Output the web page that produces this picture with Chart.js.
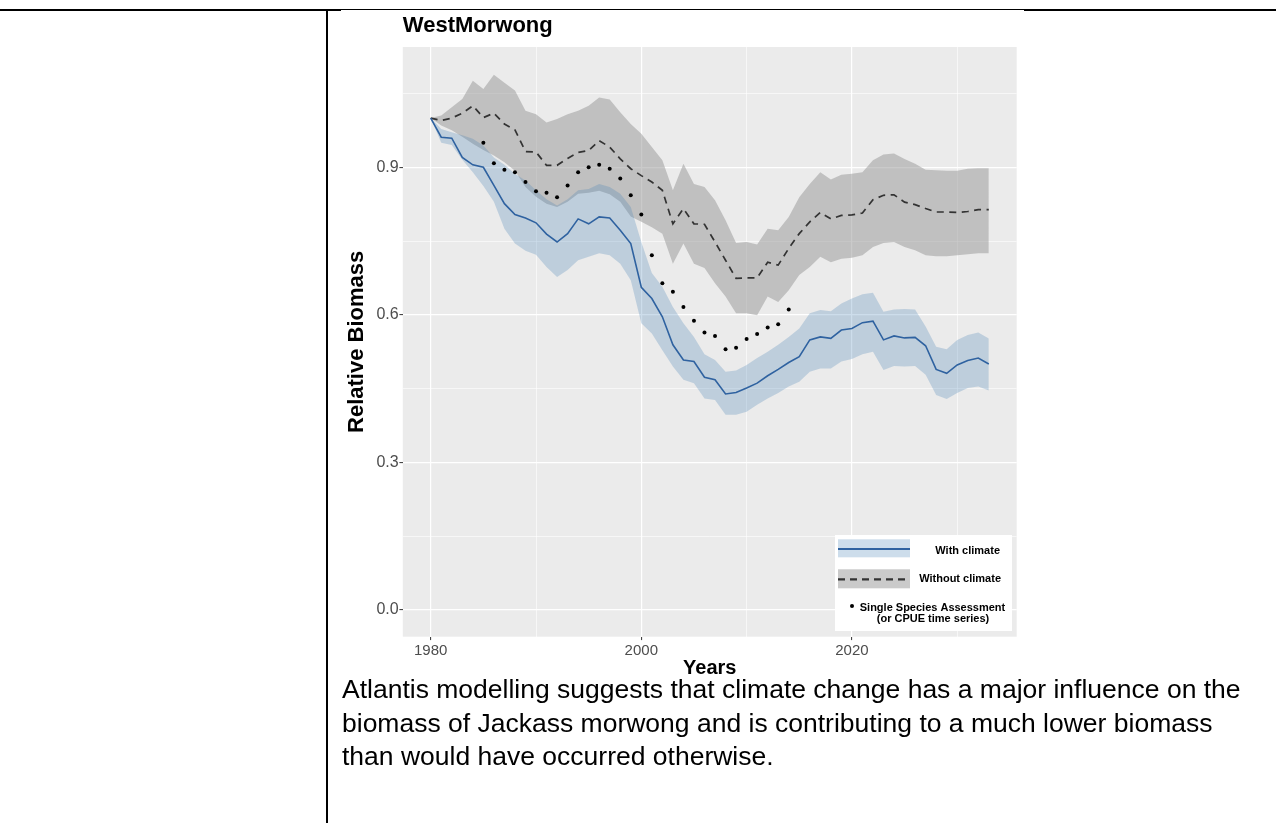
<!DOCTYPE html>
<html>
<head>
<meta charset="utf-8">
<script src="https://cdn.jsdelivr.net/npm/chart.js@4.4.1/dist/chart.umd.min.js"></script>
<style>
  html, body { margin:0; padding:0; background:#fff; width:1276px; height:823px; overflow:hidden; }
  .ln { position:absolute; background:#000; }
  #chartBox { position:absolute; left:330px; top:10px; width:700px; height:680px; }
  #caption { position:absolute; left:342px; top:673px; font-family:"Liberation Sans", Arial, sans-serif; font-size:26.5px; line-height:33.5px; color:#000; white-space:nowrap; }
</style>
</head>
<body>
  <div class="ln" style="left:0; top:9px; width:341px; height:2px;"></div>
  <div class="ln" style="left:341px; top:9px; width:683px; height:1px;"></div>
  <div class="ln" style="left:1024px; top:9px; width:252px; height:2px;"></div>
  <div class="ln" style="left:325.5px; top:9px; width:2.7px; height:814px;"></div>
  <div id="chartBox"><canvas id="c" width="700" height="680"></canvas></div>
  <div id="caption">Atlantis modelling suggests that climate change has a major influence on the<br>biomass of Jackass morwong and is contributing to a much lower biomass<br>than would have occurred otherwise.</div>
<script>
// ---------- data ----------
const years = [1980,1981,1982,1983,1984,1985,1986,1987,1988,1989,1990,1991,1992,1993,1994,1995,1996,1997,1998,1999,2000,2001,2002,2003,2004,2005,2006,2007,2008,2009,2010,2011,2012,2013,2014,2015,2016,2017,2018,2019,2020,2021,2022,2023,2024,2025,2026,2027,2028,2029,2030,2031,2032,2033];
const withClimate = [1.000,0.961,0.959,0.920,0.905,0.900,0.863,0.826,0.804,0.797,0.787,0.764,0.748,0.765,0.795,0.785,0.799,0.797,0.772,0.745,0.656,0.633,0.596,0.539,0.508,0.505,0.473,0.468,0.439,0.442,0.451,0.461,0.476,0.489,0.503,0.515,0.549,0.555,0.552,0.569,0.572,0.584,0.587,0.549,0.557,0.553,0.554,0.537,0.489,0.481,0.498,0.507,0.512,0.500];
const withUpper = [1.000,0.978,0.971,0.965,0.958,0.944,0.920,0.905,0.887,0.873,0.853,0.835,0.822,0.835,0.853,0.856,0.866,0.860,0.846,0.819,0.748,0.685,0.657,0.616,0.583,0.555,0.520,0.508,0.484,0.487,0.498,0.512,0.525,0.539,0.555,0.572,0.603,0.610,0.607,0.623,0.633,0.642,0.645,0.606,0.611,0.612,0.611,0.576,0.535,0.530,0.549,0.559,0.564,0.552];
const withLower = [1.000,0.950,0.945,0.915,0.890,0.862,0.830,0.775,0.745,0.730,0.722,0.697,0.677,0.691,0.711,0.718,0.725,0.721,0.704,0.670,0.583,0.562,0.528,0.495,0.468,0.461,0.430,0.427,0.397,0.397,0.403,0.417,0.430,0.441,0.454,0.464,0.484,0.491,0.491,0.505,0.510,0.520,0.525,0.488,0.496,0.495,0.496,0.478,0.437,0.429,0.441,0.451,0.454,0.446];
const withoutClimate = [1.000,0.995,1.000,1.010,1.025,1.001,1.010,0.988,0.976,0.932,0.931,0.904,0.904,0.918,0.930,0.934,0.954,0.941,0.917,0.897,0.883,0.870,0.853,0.785,0.816,0.785,0.784,0.748,0.711,0.674,0.675,0.675,0.707,0.701,0.735,0.765,0.789,0.808,0.795,0.802,0.803,0.807,0.834,0.843,0.844,0.829,0.824,0.816,0.809,0.809,0.808,0.810,0.814,0.814];
const withoutUpper = [1.000,1.005,1.022,1.039,1.076,1.059,1.088,1.072,1.056,1.015,1.008,0.991,0.998,1.008,1.015,1.025,1.042,1.038,1.012,0.988,0.968,0.941,0.914,0.853,0.907,0.866,0.860,0.833,0.792,0.746,0.748,0.743,0.775,0.772,0.799,0.839,0.866,0.890,0.875,0.885,0.887,0.890,0.914,0.926,0.928,0.917,0.907,0.895,0.894,0.893,0.893,0.897,0.898,0.898];
const withoutLower = [1.000,0.985,0.975,0.962,0.948,0.935,0.924,0.910,0.893,0.860,0.840,0.826,0.819,0.830,0.846,0.848,0.852,0.845,0.830,0.800,0.789,0.778,0.765,0.704,0.745,0.704,0.695,0.664,0.637,0.603,0.603,0.599,0.637,0.626,0.650,0.681,0.697,0.718,0.707,0.714,0.716,0.721,0.738,0.746,0.748,0.738,0.731,0.721,0.719,0.719,0.721,0.723,0.725,0.725];
const assessYears = [1985,1986,1987,1988,1989,1990,1991,1992,1993,1994,1995,1996,1997,1998,1999,2000,2001,2002,2003,2004,2005,2006,2007,2008,2009,2010,2011,2012,2013,2014];
const assessment = [0.950,0.908,0.895,0.890,0.870,0.851,0.848,0.839,0.863,0.890,0.900,0.905,0.897,0.877,0.843,0.804,0.721,0.664,0.647,0.616,0.588,0.564,0.557,0.530,0.533,0.551,0.561,0.574,0.581,0.611];
const xTicks = [1980,1990,2000,2010,2020,2030];
const xLabels = ['1980','','2000','','2020',''];
const yTicks = [0,0.15,0.3,0.45,0.6,0.75,0.9,1.05];
const yLabels = ['0.0','','0.3','','0.6','','0.9',''];
const legendLabels = ['With climate','Without climate','Single Species Assessment','(or CPUE time series)'];

const FONT = '"Liberation Sans", Arial, Helvetica, sans-serif';
const pts = (xs, ys) => xs.map((x, i) => ({x: x, y: ys[i]}));
const isMajor = (ticks, labels, c) => c.tick && labels[ticks.indexOf(c.tick.value)] !== '';

const panelBg = {
  id: 'panelBg',
  beforeDraw(chart) {
    const {ctx, chartArea: a} = chart;
    ctx.save();
    ctx.fillStyle = '#EBEBEB';
    ctx.fillRect(a.left, a.top, a.right - a.left, a.bottom - a.top);
    ctx.restore();
  }
};

const legendBox = {
  id: 'legendBox',
  afterDraw(chart) {
    const ctx = chart.ctx;
    ctx.save();
    ctx.fillStyle = '#FFFFFF';
    ctx.fillRect(505, 525, 177, 96);
    ctx.fillStyle = 'rgba(70,130,180,0.27)';
    ctx.fillRect(508, 529.3, 72, 18);
    ctx.strokeStyle = '#2F62A0'; ctx.lineWidth = 2.2;
    ctx.beginPath(); ctx.moveTo(508, 539); ctx.lineTo(580, 539); ctx.stroke();
    ctx.fillStyle = 'rgba(150,150,150,0.5)';
    ctx.fillRect(508, 559.3, 72, 19);
    ctx.strokeStyle = '#333333'; ctx.lineWidth = 2.2; ctx.setLineDash([7, 5]);
    ctx.beginPath(); ctx.moveTo(508, 569.3); ctx.lineTo(580, 569.3); ctx.stroke();
    ctx.setLineDash([]);
    ctx.fillStyle = '#000';
    ctx.beginPath(); ctx.arc(522, 596, 2, 0, Math.PI * 2); ctx.fill();
    ctx.font = 'bold 11px ' + FONT;
    ctx.textBaseline = 'middle';
    ctx.textAlign = 'right';
    ctx.fillText(legendLabels[0], 670, 540.5);
    ctx.fillText(legendLabels[1], 671, 568.5);
    ctx.textAlign = 'center';
    ctx.fillText(legendLabels[2], 602.5, 598.3);
    ctx.fillText(legendLabels[3], 603, 608.5);
    ctx.restore();
  }
};

new Chart(document.getElementById('c'), {
  type: 'line',
  data: {
    datasets: [
      { label: 'without upper', data: pts(years, withoutUpper), borderWidth: 0, pointRadius: 0, fill: 1, backgroundColor: 'rgba(150,150,150,0.5)', order: 6 },
      { label: 'without lower', data: pts(years, withoutLower), borderWidth: 0, pointRadius: 0, fill: false, order: 6 },
      { label: 'with upper', data: pts(years, withUpper), borderWidth: 0, pointRadius: 0, fill: 3, backgroundColor: 'rgba(70,130,180,0.27)', order: 5 },
      { label: 'with lower', data: pts(years, withLower), borderWidth: 0, pointRadius: 0, fill: false, order: 5 },
      { label: 'Without climate', data: pts(years, withoutClimate), borderColor: '#333333', borderWidth: 1.7, borderDash: [7, 5.5], pointRadius: 0, fill: false, order: 2 },
      { label: 'With climate', data: pts(years, withClimate), borderColor: '#2F62A0', borderWidth: 1.6, pointRadius: 0, fill: false, order: 1 },
      { label: 'Single Species Assessment', data: pts(assessYears, assessment), showLine: false, pointRadius: 2, pointBackgroundColor: '#000', pointBorderWidth: 0, order: 0 }
    ]
  },
  options: {
    responsive: false,
    animation: false,
    events: [],
    layout: { padding: { left: 0, right: 13.3, top: 0, bottom: 0 } },
    plugins: {
      legend: { display: false },
      tooltip: { enabled: false },
      title: {
        display: true, text: 'WestMorwong', align: 'start', fullSize: false,
        color: '#000', font: { family: FONT, size: 22, weight: 'bold', lineHeight: 1.2 },
        padding: { top: 2.6, bottom: 8.0 }
      }
    },
    scales: {
      x: {
        type: 'linear', min: 1977.35, max: 2035.65,
        afterBuildTicks: s => { s.ticks = xTicks.map(v => ({ value: v })); },
        afterFit: s => { s.height = 53.3; },
        grid: {
          color: '#FFFFFF',
          lineWidth: c => isMajor(xTicks, xLabels, c) ? 1.2 : 0.6,
          drawTicks: true, tickLength: 3.4,
          tickColor: c => isMajor(xTicks, xLabels, c) ? '#333333' : 'rgba(0,0,0,0)',
          tickWidth: 1
        },
        border: { display: false },
        ticks: {
          autoSkip: false, maxRotation: 0, padding: 1.5,
          color: '#4D4D4D', font: { family: FONT, size: 15 },
          callback: v => { const i = xTicks.indexOf(v); return i >= 0 ? xLabels[i] : ''; }
        },
        title: { display: true, text: 'Years', color: '#000', font: { family: FONT, size: 20, weight: 'bold', lineHeight: 1.2 }, padding: { top: 0, bottom: 9.5 } }
      },
      y: {
        type: 'linear', min: -0.0545, max: 1.1445,
        afterBuildTicks: s => { s.ticks = yTicks.map(v => ({ value: v })); },
        afterFit: s => { s.width = 72.8; },
        grid: {
          color: '#FFFFFF',
          lineWidth: c => isMajor(yTicks, yLabels, c) ? 1.2 : 0.6,
          drawTicks: true, tickLength: 3.4,
          tickColor: c => isMajor(yTicks, yLabels, c) ? '#333333' : 'rgba(0,0,0,0)',
          tickWidth: 1
        },
        border: { display: false },
        ticks: {
          autoSkip: false, padding: 0.7,
          color: '#4D4D4D', font: { family: FONT, size: 16 },
          callback: v => { const i = yTicks.indexOf(v); return i >= 0 ? yLabels[i] : ''; }
        },
        title: { display: true, text: 'Relative Biomass', color: '#000', font: { family: FONT, size: 22, weight: 'bold', lineHeight: 1.2 }, padding: { top: 13.8, bottom: 0 } }
      }
    }
  },
  plugins: [panelBg, legendBox]
});
</script>
</body>
</html>
